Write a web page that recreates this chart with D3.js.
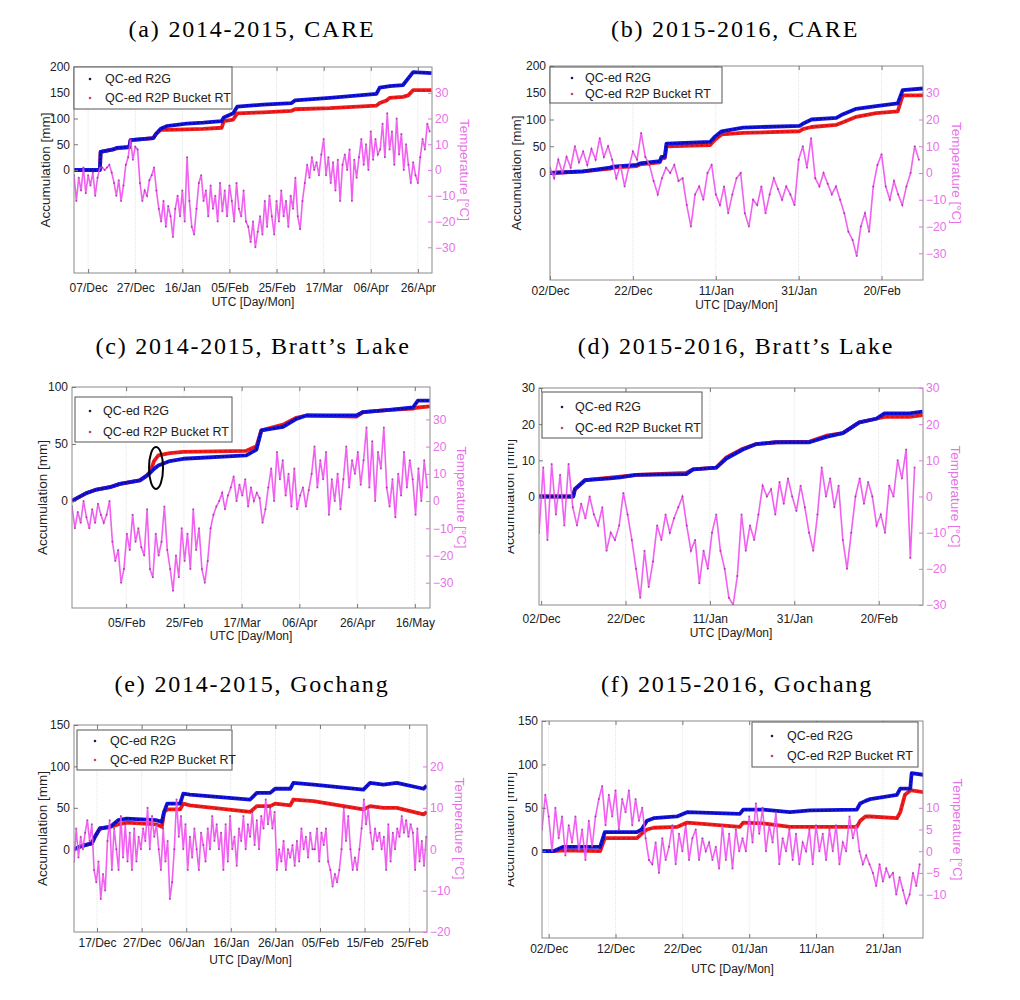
<!DOCTYPE html>
<html><head><meta charset="utf-8">
<script src="https://cdn.jsdelivr.net/npm/d3@7"></script>
<style>body{margin:0;background:#fff}svg{display:block}</style>
</head><body>
<svg id="c" width="1020" height="1000"></svg>
<script>
// ---------------- DATA ----------------
const titles = ["(a) 2014-2015, CARE","(b) 2015-2016, CARE","(c) 2014-2015, Bratt\u2019s Lake","(d) 2015-2016, Bratt\u2019s Lake","(e) 2014-2015, Gochang","(f) 2015-2016, Gochang"];
const seriesNames = ["QC-ed R2G","QC-ed R2P Bucket RT"];
const xLabel = "UTC [Day/Mon]";
const yLeftLabel = "Accumulation [mm]";
const yRightLabel = "Temperature [\u00B0C]";

// (a) CARE 2014-2015 : accumulation (days since 1 Dec 2014)
const accDaysA = [0,11,11.3,16.7,18.1,23.5,24,33.7,34.8,36.8,39.3,47.8,54.9,62.7,63.6,67.6,69.3,80.3,92.4,93.8,108.6,128.4,129.8,132.7,134,139.7,141.9,144,151.8];
const r2gA = [0,0,35,40,43,45,58,62,70,80,85,90,92,95,102,110,123,127,130,135,140,148,160,162,163,165,178,190,188];
const r2pA = [0,0,35,40,42,44,58,62,70,78,78,79,80,82,95,98,110,112,115,118,120,125,130,135,140,142,145,155,155];
const tempA = [-2,-12,-3,-8,1,-9,-2,-6,-1,-10,-3,1,1,0,1,2,-1,-5,-10,-4,-12,-6,2,5,12,4,9,8,-5,-12,-8,-10,-4,-2,1,-8,-15,-20,-12,-22,-14,-18,-26,-15,-10,-18,-8,-20,5,-12,-22,-25,-15,-5,-2,-12,-8,-18,-6,-15,-10,-20,-5,-16,-8,-18,-6,-12,-20,-5,-15,-18,-8,-20,-22,-28,-20,-30,-24,-18,-25,-12,-22,-10,-18,-25,-12,-20,-8,-18,-12,-22,-10,-15,-3,-18,-23,-12,-5,2,-3,5,0,3,-2,6,12,-2,5,-5,3,-8,4,-12,2,6,0,8,-12,4,-3,5,12,2,10,0,15,4,12,6,8,18,5,22,8,15,2,20,6,14,0,10,2,-5,3,-2,-5,5,12,8,18,15];

// (b) CARE 2015-2016 (days since 2 Dec 2015)
const accDaysB = [0,8,14.5,15.3,20.9,21.7,26.5,26.9,27.7,28.1,38.6,39.8,41.4,46.6,60.2,61,63.1,69.1,70.7,73.9,78.7,83.9,85.1,90];
const r2gB = [0,3,10,12,15,18,22,30,30,55,58,68,78,85,88,92,100,103,110,120,125,130,155,158];
const r2pB = [0,3,8,10,13,16,20,28,28,50,52,62,72,75,78,82,86,90,95,105,112,115,145,145];
const tempB = [2,-2,5,0,6,2,10,4,8,3,9,5,13,6,10,5,-2,3,-5,2,8,5,15,6,3,-3,-8,-2,2,0,3,-3,-2,-12,-20,-8,-5,-10,0,3,-8,-12,-5,-15,-8,-2,0,-15,-20,-10,-12,-5,-15,-8,-2,-6,-10,-5,-8,-12,5,10,2,13,-2,-5,0,-4,-8,-5,-10,-15,-22,-25,-31,-20,-15,-22,-5,3,7,-5,-10,-3,-8,-12,-5,0,10,5];

// (c) Bratt's Lake 2014-2015 (days since 17 Jan 2015 06 UTC)
const accDaysC = [0,5.1,8.5,13.1,16.6,23.5,25.8,27.2,28.4,29.9,33.9,38.5,60.4,63.9,65.6,73.1,77.7,81.2,98.5,100.8,110,118.1,119.8,123.9];
const r2gC = [0,7,10,12,15,18,22,25,28,31,35,37,40,45,62,65,72,75,75,78,80,82,88,88];
const r2pC = [0,7,10,12,15,18,22,26,35,40,42,43,44,48,62,67,73,75,74,78,80,81,82,83];
const tempC = [-2,-10,-4,-8,0,-6,-10,-3,-8,-1,-5,-8,-5,0,-15,-22,-18,-30,-25,-12,-18,-5,-15,-10,-17,-20,-3,-25,-28,-12,-20,-15,-2,-18,-25,-33,-20,-28,-10,-22,-12,-25,-3,-18,-10,-25,-30,-22,-10,-5,-2,0,3,-3,2,5,9,0,6,2,8,-2,5,0,3,1,-8,-3,5,12,0,18,8,15,2,10,-2,12,-3,2,5,-2,4,10,20,5,15,8,18,-5,8,0,10,-3,8,20,5,15,10,18,6,15,27,5,22,0,18,12,27,5,-2,8,-6,10,2,18,5,15,8,-5,12,0,15,5];
const circled = {day: 29.1, value: 29};

// (d) Bratt's Lake 2015-2016 (days since 1 Dec 2015 12 UTC)
const accDaysD = [0,8.1,8.5,10.9,16.8,19.2,23.1,34.9,36.5,42,44.4,48.3,51.5,56.2,64.1,68.1,72,75.9,79.9,81.9,87.8,90.9];
const r2gD = [0,0,2,4.5,5,5.3,6,6.2,7.5,8,10.5,13,14.5,15,15,16.5,17.5,20.5,21.5,23,23,23.5];
const r2pD = [0,0,2,4.5,5.2,5.5,6,6.5,7.5,8,10.8,13.2,14.5,15,15.2,16.8,17.5,20.5,21.5,22,22,22.5];
const tempD = [-10,8,-12,9,-5,6,-8,9,-3,-8,-2,-6,0,-5,-8,-3,-15,-10,-12,-8,1,-5,-12,-20,-28,-15,-25,-18,-8,-12,-5,-10,-6,-3,0,-8,-15,-12,-24,-15,-20,-10,-5,-15,-20,-28,-30,-22,-5,-15,-8,-12,-5,3,0,2,-5,4,-2,5,0,-4,3,-3,-10,-15,-5,8,0,5,-3,3,-12,-20,-10,0,5,-2,4,0,-8,-5,-10,3,0,10,5,13,-17,8];

// (e) Gochang 2014-2015 (days since 11 Dec 2014 20 UTC)
const accDaysE = [0,1.3,2.5,4,4.7,5.8,8.1,9.9,11.8,18.5,19.7,20.2,20.9,23.8,24.5,26,39.5,41,44,45.1,48.5,49.2,53.7,64.9,66.4,69.4,72.4,78.4,79.1];
const r2gE = [0,3,5,7,15,25,27,35,37,35,33,45,55,55,67,66,60,68,68,73,73,80,78,72,80,78,80,73,77];
const r2pE = [0,3,5,7,15,25,27,30,32,30,27,45,48,48,55,53,45,52,52,55,53,60,58,48,52,50,50,42,45];
const tempE = [-3,5,-2,3,0,4,7,2,6,-5,-8,-3,-12,-6,-10,2,7,-5,5,0,-5,8,-2,6,-3,4,-5,5,-3,3,0,5,2,10,0,8,3,6,0,-5,5,-3,2,-12,-8,0,12,3,8,0,6,-5,3,-2,5,0,-5,4,1,-3,5,0,8,2,6,0,4,-5,6,-3,8,0,3,-4,5,2,8,0,6,3,9,1,7,0,8,5,12,6,10,5,9,-5,0,-3,2,-5,0,-2,1,-4,2,-3,5,0,3,-2,4,0,0,5,-3,4,1,5,-3,-5,-9,-6,-8,-5,0,10,2,8,0,-5,-2,-5,0,5,12,6,10,4,0,5,2,4,0,3,-5,6,-3,4,0,5,3,8,4,7,3,6,4,-5,5,-3,2,-4,3];

// (f) Gochang 2015-2016 (days since 1 Dec 2015)
const accDaysF = [0,1.7,3.2,8.7,9.4,14.2,14.9,15.7,16.7,20.2,21.7,29.6,30.1,33.1,37.1,40.1,47.1,47.6,48.4,49.1,53.1,53.6,54.3,55.1,55.3,57.1];
const r2gF = [0,0,5,5,22,22,25,35,38,40,45,43,48,48,45,47,48,55,58,60,65,72,72,72,90,88];
const r2pF = [0,0,1,0,15,15,20,25,27,28,33,28,33,32,28,28,28,35,40,40,38,45,65,70,70,68];
const tempF = [5,13,8,0,10,3,8,-1,6,2,8,0,5,-2,7,1,8,12,15,6,13,8,14,5,12,9,14,6,12,7,10,3,-2,-3,2,-5,3,-2,1,6,-3,4,0,6,-2,3,5,-2,3,0,2,-2,1,-4,6,-2,4,-4,5,0,3,0,8,2,11,4,10,0,6,2,9,-3,3,0,5,-2,4,-3,2,0,5,-3,6,0,4,-2,5,0,6,-3,2,0,8,3,6,0,-3,-1,-3,-5,-8,-3,-7,-4,-6,-5,-10,-6,-9,-12,-10,-5,-8,-3];

// ---------------- LAYOUT ----------------
const U = s => new Date(s + "Z");
const panels = [
 {title:titles[0], tx:252, ty:37, box:[74,67,432,273], start:U("2014-12-01T00:00"), end:U("2015-05-02T00:00"), tick0:U("2014-12-07T00:00"), step:20,
  yL:[-200,200], yLt:[0,50,100,150,200], yR:[-40,40], yRt:[-30,-20,-10,0,10,20,30], days:accDaysA, g:r2gA, p:r2pA, temp:tempA, tStep:1,
  leg:[74,67,232,109], legTx:105, legMx:90, legRows:[79,98], lx:45, rx:465, tDy:19, lDy:33, right:false},
 {title:titles[1], tx:735, ty:37, box:[550,66,923,280], start:U("2015-12-02T00:00"), end:U("2016-03-01T00:00"), tick0:U("2015-12-02T00:00"), step:20,
  yL:[-200,200], yLt:[0,50,100,150,200], yR:[-40,40], yRt:[-30,-20,-10,0,10,20,30], days:accDaysB, g:r2gB, p:r2pB, temp:tempB, tStep:1,
  leg:[550,67,722,103], legTx:585, legMx:572, legRows:[78,94], lx:516, rx:957, tDy:15, lDy:29, right:true},
 {title:titles[2], tx:253, ty:354, box:[72,387,430,608], start:U("2015-01-17T06:00"), end:U("2015-05-21T06:00"), tick0:U("2015-02-05T00:00"), step:20,
  yL:[-94,100], yLt:[0,50,100], yR:[-39.3,41.9], yRt:[-30,-20,-10,0,10,20,30], days:accDaysC, g:r2gC, p:r2pC, temp:tempC, tStep:1,
  leg:[75,397,232,442], legTx:103, legMx:90, legRows:[411,432], lx:42, rx:462, tDy:19, lDy:32, right:false, ellipse:circled},
 {title:titles[3], tx:736, ty:354, box:[539,388,923,605], start:U("2015-12-01T12:00"), end:U("2016-03-01T12:00"), tick0:U("2015-12-02T00:00"), step:20,
  yL:[-30,30], yLt:[0,10,20,30], yR:[-30,30], yRt:[-30,-20,-10,0,10,20,30], days:accDaysD, g:r2gD, p:r2pD, temp:tempD, tStep:1,
  leg:[542,392,702,438], legTx:575, legMx:562, legRows:[407,428], lx:509, rx:956, tDy:18, lDy:32, right:true},
 {title:titles[4], tx:252, ty:692, box:[74,725,427,932], start:U("2014-12-11T20:00"), end:U("2015-03-01T00:00"), tick0:U("2014-12-17T00:00"), step:10,
  yL:[-100,150], yLt:[0,50,100,150], yR:[-20,30], yRt:[-20,-10,0,10,20], days:accDaysE, g:r2gE, p:r2pE, temp:tempE, tStep:0.5,
  leg:[77,730,232,770], legTx:110, legMx:95, legRows:[741,760], lx:42, rx:460, tDy:15, lDy:32, right:false},
 {title:titles[5], tx:737, ty:692, box:[542,721,923,938], start:U("2015-12-01T00:00"), end:U("2016-01-27T00:00"), tick0:U("2015-12-02T00:00"), step:10,
  yL:[-100,150], yLt:[0,50,100,150], yR:[-20,30], yRt:[-10,-5,0,5,10], days:accDaysF, g:r2gF, p:r2pF, temp:tempF, tStep:0.5,
  leg:[752,722,918,767], legTx:787, legMx:772, legRows:[736,756], lx:509, rx:958, tDy:15, lDy:35, right:true}
];

// ---------------- DRAW ----------------
const svg = d3.select("#c");
const defs = svg.append("defs");
defs.append("clipPath").attr("id","colR").append("rect").attr("x",508).attr("y",0).attr("width",512).attr("height",1000);
const fmt = d3.utcFormat("%d/%b");
const DAY = 864e5;
const SANS = "'Liberation Sans', Arial, sans-serif";
const MAG = "#f050f0", MAGT = "#e870e8";

panels.forEach((p, i) => {
  const root = svg.append("g").attr("clip-path", p.right ? "url(#colR)" : null);
  const [x0,y0,x1,y1] = p.box;
  defs.append("clipPath").attr("id","pc"+i).append("rect").attr("x",x0).attr("y",y0).attr("width",x1-x0).attr("height",y1-y0);
  const x = d3.scaleUtc().domain([p.start,p.end]).range([x0,x1]);
  const yL = d3.scaleLinear().domain(p.yL).range([y1,y0]);
  const yR = d3.scaleLinear().domain(p.yR).range([y1,y0]);
  const toDate = d => new Date(p.start.getTime() + d*DAY);
  const ticks = [];
  for (let t = p.tick0.getTime(); t <= p.end.getTime(); t += p.step*DAY) ticks.push(new Date(t));

  // title
  svg.append("text").attr("x",p.tx).attr("y",p.ty).attr("text-anchor","middle")
    .attr("font-family","'Liberation Serif', 'Times New Roman', serif").attr("font-size",24).attr("letter-spacing",1.8)
    .attr("fill","#000").text(p.title);

  // background + grid
  root.append("rect").attr("x",x0).attr("y",y0).attr("width",x1-x0).attr("height",y1-y0).attr("fill","#fff");
  root.append("g").selectAll("line").data(ticks).join("line")
    .attr("x1",d=>x(d)).attr("x2",d=>x(d)).attr("y1",y0).attr("y2",y1)
    .attr("stroke","#e4e4e4").attr("stroke-width",1).attr("stroke-dasharray","1,1");

  const plot = root.append("g").attr("clip-path",`url(#pc${i})`);
  // accumulation lines
  const acc = vals => d3.line().x((d,k)=>x(toDate(p.days[k]))).y(d=>yL(d))(vals);
  plot.append("path").attr("d",acc(p.p)).attr("fill","none").attr("stroke","#f21c1c").attr("stroke-width",3.8).attr("stroke-linejoin","round");
  plot.append("path").attr("d",acc(p.p)).attr("fill","none").attr("stroke","#7a0f1a").attr("stroke-width",1.1).attr("stroke-dasharray","2,3").attr("opacity",0.6);
  plot.append("path").attr("d",acc(p.g)).attr("fill","none").attr("stroke","#1414e0").attr("stroke-width",3.8).attr("stroke-linejoin","round");
  plot.append("path").attr("d",acc(p.g)).attr("fill","none").attr("stroke","#000055").attr("stroke-width",1.2).attr("stroke-dasharray","2,2").attr("opacity",0.75);

  // temperature
  const tl = d3.line().x((d,k)=>x(toDate(k*p.tStep))).y(d=>yR(d));
  plot.append("path").attr("d",tl(p.temp)).attr("fill","none").attr("stroke",MAG).attr("stroke-width",1.6).attr("opacity",0.9);
  plot.append("g").selectAll("circle").data(p.temp).join("circle")
    .attr("cx",(d,k)=>x(toDate(k*p.tStep))).attr("cy",d=>yR(d)).attr("r",1).attr("fill","#8e2e8e").attr("opacity",0.75);

  // frame
  root.append("rect").attr("x",x0).attr("y",y0).attr("width",x1-x0).attr("height",y1-y0)
    .attr("fill","none").attr("stroke","#8a8a8a").attr("stroke-width",1);

  // axes
  const gb = root.append("g").attr("transform",`translate(0,${y1})`)
    .call(d3.axisBottom(x).tickValues(ticks).tickFormat(fmt).tickSize(-4));
  gb.select(".domain").remove();
  gb.selectAll("line").attr("stroke","#777");
  gb.selectAll("text").attr("y",p.tDy).attr("dy",null).attr("fill","#222").attr("font-size",12).attr("font-family",SANS);
  const gt = root.append("g").attr("transform",`translate(0,${y0})`)
    .call(d3.axisTop(x).tickValues(ticks).tickFormat("").tickSize(-4));
  gt.select(".domain").remove(); gt.selectAll("line").attr("stroke","#777");

  const gl = root.append("g").attr("transform",`translate(${x0},0)`)
    .call(d3.axisLeft(yL).tickValues(p.yLt).tickSize(-4).tickPadding(4));
  gl.select(".domain").remove(); gl.selectAll("line").attr("stroke","#777");
  gl.selectAll("text").attr("fill","#222").attr("font-size",12).attr("font-family",SANS);

  const gr = root.append("g").attr("transform",`translate(${x1},0)`)
    .call(d3.axisRight(yR).tickValues(p.yRt).tickSize(-4).tickPadding(3));
  gr.select(".domain").remove(); gr.selectAll("line").attr("stroke",MAGT);
  gr.selectAll("text").attr("fill",MAGT).attr("font-size",12).attr("font-family",SANS);

  // axis labels
  const my = (y0+y1)/2;
  root.append("text").attr("transform",`translate(${p.lx},${my}) rotate(-90)`).attr("text-anchor","middle").attr("dy","0.35em")
    .attr("font-family",SANS).attr("font-size",13.5).attr("fill","#222").text(yLeftLabel);
  root.append("text").attr("transform",`translate(${p.rx},${my}) rotate(90)`).attr("text-anchor","middle").attr("dy","0.35em")
    .attr("font-family",SANS).attr("font-size",13.5).attr("fill",MAGT).text(yRightLabel);
  root.append("text").attr("x",(x0+x1)/2).attr("y",y1+p.lDy).attr("text-anchor","middle")
    .attr("font-family",SANS).attr("font-size",12).attr("fill","#222").text(xLabel);

  // ellipse annotation
  if (p.ellipse) {
    root.append("ellipse").attr("cx",x(toDate(p.ellipse.day))).attr("cy",yL(p.ellipse.value))
      .attr("rx",7).attr("ry",21).attr("fill","none").attr("stroke","#000").attr("stroke-width",2);
  }

  // legend
  const [lx0,ly0,lx1,ly1] = p.leg;
  root.append("rect").attr("x",lx0).attr("y",ly0).attr("width",lx1-lx0).attr("height",ly1-ly0)
    .attr("fill","#fff").attr("stroke","#555").attr("stroke-width",1);
  seriesNames.forEach((n,k) => {
    root.append("circle").attr("cx",p.legMx).attr("cy",p.legRows[k]).attr("r",1.3).attr("fill",k===0?"#1a1a55":"#c0408a");
    root.append("text").attr("x",p.legTx).attr("y",p.legRows[k]).attr("dy","0.35em")
      .attr("font-family",SANS).attr("font-size",12.5).attr("fill","#222").text(n);
  });
});
</script>
</body></html>
